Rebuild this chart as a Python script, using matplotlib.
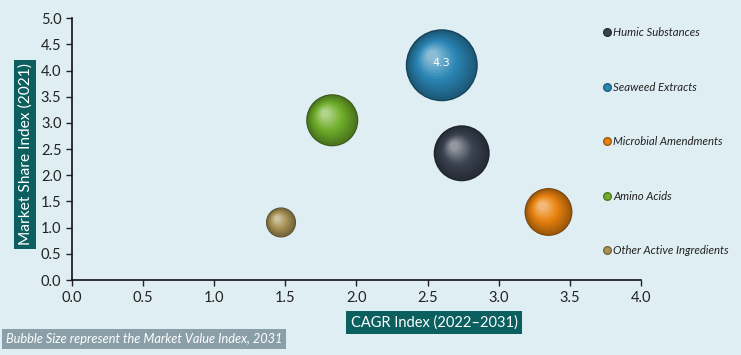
import matplotlib.pyplot as plt
import matplotlib.colors as mcolors
from matplotlib import transforms
from matplotlib.lines import Line2D

plt.rcParams['font.family'] = ['Lato', 'DejaVu Sans']

names = ['Humic Substances', 'Seaweed Extracts', 'Microbial Amendments',
         'Amino Acids', 'Other Active Ingredients']
cagr = [2.74, 2.60, 3.35, 1.83, 1.47]
share = [2.42, 4.10, 1.30, 3.05, 1.10]
value = [2.6, 4.3, 1.9, 2.25, 0.75]
colors = ['#3a4250', '#2a86b5', '#e8820e', '#6fae2a', '#a89355']

bg = '#deeef3'
fig = plt.figure(figsize=(7.41, 3.55), dpi=100, facecolor=bg)
ax = fig.add_axes([0.097, 0.211, 0.768, 0.738])
ax.set_facecolor(bg)

k = 625  # marker area per value unit
nlay = 14
for x, y, v, c in zip(cagr, share, value, colors):
    base = mcolors.to_rgb(c)
    d = (k * v) ** 0.5
    # dark rim
    dark = tuple(ch * 0.5 for ch in base)
    ax.scatter([x], [y], s=d ** 2, color=dark, edgecolors='none', zorder=3)
    for i in range(nlay):
        f = i / (nlay - 1)
        size = d * (0.96 - 0.8 * f)
        off = d * 0.13 * f
        if f < 0.5:
            col = tuple(ch * (0.68 + 0.64 * f) for ch in base)
        else:
            w = (f - 0.5) * 0.9
            col = tuple(ch + (1 - ch) * w for ch in base)
        tr = transforms.offset_copy(ax.transData, fig=fig, x=-off, y=off, units='points')
        ax.scatter([x], [y], s=size ** 2, color=col, edgecolors='none',
                   zorder=3 + 0.01 * i, transform=tr)

i_big = value.index(max(value))
ax.text(cagr[i_big], share[i_big] + 0.05, '4.3', color='white', fontsize=8,
        ha='center', va='center', zorder=10, family='DejaVu Sans')

ax.set_xlim(0, 4)
ax.set_ylim(0, 5)
ax.set_xticks([0, 0.5, 1, 1.5, 2, 2.5, 3, 3.5, 4])
ax.set_yticks([0, 0.5, 1, 1.5, 2, 2.5, 3, 3.5, 4, 4.5, 5])
ax.xaxis.set_major_formatter(plt.FormatStrFormatter('%.1f'))
ax.yaxis.set_major_formatter(plt.FormatStrFormatter('%.1f'))
ax.tick_params(labelsize=10.5, colors='#222222', length=4, width=1)
for s in ['top', 'right']:
    ax.spines[s].set_visible(False)
for s in ['left', 'bottom']:
    ax.spines[s].set_color('#111111')
    ax.spines[s].set_linewidth(1.2)

handles = [Line2D([], [], marker='o', linestyle='none', markersize=5.5,
                  markerfacecolor=c, markeredgecolor=tuple(ch * 0.7 for ch in mcolors.to_rgb(c)))
           for c in colors]
leg = fig.legend(handles, names, loc='upper left', bbox_to_anchor=(0.797, 0.953),
                 frameon=False, labelspacing=3.83, handletextpad=0.1,
                 handlelength=1.0, prop={'style': 'italic', 'size': 8.2})
for t in leg.get_texts():
    t.set_color('#222222')

fig.text(0.034, 0.565, 'Market Share Index (2021)', rotation=90, color='white',
         fontsize=11.2, ha='center', va='center',
         bbox=dict(boxstyle='square,pad=0.25', fc='#0b5f5f', ec='none'))
fig.text(0.586, 0.091, 'CAGR Index (2022\u20132031)', color='white',
         fontsize=10.5, ha='center', va='center',
         bbox=dict(boxstyle='square,pad=0.3', fc='#0b5f5f', ec='none'))
fig.text(0.008, 0.045, 'Bubble Size represent the Market Value Index, 2031',
         color='white', fontsize=9.2, style='italic', ha='left', va='center',
         bbox=dict(boxstyle='square,pad=0.3', fc='#8a9fa8', ec='none'))

fig.savefig('out.png', dpi=100, facecolor=bg)
